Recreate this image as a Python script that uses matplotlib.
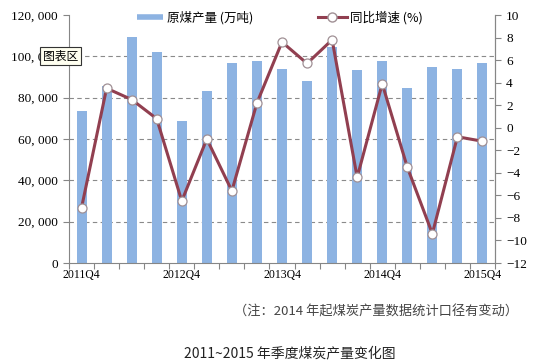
import matplotlib
matplotlib.use("Agg")
import matplotlib.pyplot as plt
from matplotlib.ticker import FuncFormatter, FixedLocator
from matplotlib.lines import Line2D

plt.rcParams['font.family'] = ['Noto Sans CJK SC', 'DejaVu Sans']

quarters = ["2011Q4", "2012Q1", "2012Q2", "2012Q3", "2012Q4", "2013Q1", "2013Q2", "2013Q3",
            "2013Q4", "2014Q1", "2014Q2", "2014Q3", "2014Q4", "2015Q1", "2015Q2", "2015Q3", "2015Q4"]
production = [73500, 85500, 109300, 102000, 68800, 83400, 97000, 97600,
              93700, 88300, 104400, 93200, 97600, 84900, 94600, 94100, 96600]
growth = [-7.1, 3.5, 2.5, 0.8, -6.5, -1.0, -5.6, 2.2,
          7.6, 5.7, 7.8, -4.4, 3.9, -3.5, -9.4, -0.8, -1.2]
label_every = 4
left_ticks = [0, 20000, 40000, 60000, 80000, 100000, 120000]
right_ticks = list(range(-12, 11, 2))

bar_color = "#8DB3E2"
line_color = "#913F50"
marker_edge = "#a09095"
axis_color = "#868686"
num_font = "Liberation Serif"

fig = plt.figure(figsize=(5.43, 3.62), dpi=100)
ax = fig.add_axes([69/543, 1 - 263/362, (495-69)/543, (263-15)/362])
x = list(range(len(quarters)))

ax.bar(x, production, width=0.4, color=bar_color, zorder=2)
ax.set_xlim(-0.5, len(quarters) - 0.5)
ax.set_ylim(0, 120000)
ax.yaxis.set_major_locator(FixedLocator(left_ticks))
ax.yaxis.set_major_formatter(FuncFormatter(lambda v, p: f"{int(v):,}".replace(",", ", ")))
for t in left_ticks[1:-1]:
    ax.axhline(t, color="#8a8a8a", lw=0.8, ls=(0, (4, 3)), zorder=1)

ax.set_xticks([i - 0.5 for i in range(len(quarters) + 1)])
ax.set_xticklabels([])
ax.set_xticks([i for i in x if i % label_every == 0], minor=True)
ax.set_xticklabels([quarters[i] for i in x if i % label_every == 0], minor=True,
                   fontsize=8.5, family=num_font)
ax.tick_params(axis='x', which='minor', length=0, pad=4)
ax.tick_params(axis='x', which='major', length=4, color=axis_color, direction='out')
ax.tick_params(axis='y', length=4, color=axis_color, labelsize=9.5, pad=4)
for lab in ax.get_yticklabels():
    lab.set_family(num_font)

ax.spines["top"].set_visible(False)
for s in ["left", "right", "bottom"]:
    ax.spines[s].set_color(axis_color)

ax2 = ax.twinx()
ax2.plot(x, growth, color=line_color, lw=2.2, marker='o', ms=6.5,
         mfc='white', mec=marker_edge, mew=0.9, zorder=3)
ax2.set_ylim(-12, 10)
ax2.set_yticks(right_ticks)
ax2.set_yticklabels([str(t).replace("-", "\u2212") for t in right_ticks], family=num_font)
ax2.tick_params(axis='y', length=4, color=axis_color, labelsize=9.5, pad=4)
for s in ["top", "left", "bottom"]:
    ax2.spines[s].set_visible(False)
ax2.spines["right"].set_color(axis_color)

h_bar = Line2D([], [], color=bar_color, lw=4, solid_capstyle='butt')
h_line = Line2D([], [], color=line_color, lw=2.2, marker='o', ms=6.5, mfc='white', mec=marker_edge)
fig.legend([h_bar], ["原煤产量 (万吨)"], loc='center left',
           bbox_to_anchor=(137/543, 1 - 18/362), frameon=False, fontsize=9,
           handlelength=2.1, handletextpad=0.3, borderpad=0, borderaxespad=0)
fig.legend([h_line], ["同比增速 (%)"], loc='center left',
           bbox_to_anchor=(318/543, 1 - 18/362), frameon=False, fontsize=9,
           handlelength=2.3, handletextpad=0.3, borderpad=0, borderaxespad=0)

fig.text(43/543, 1 - 56/362, "图表区", fontsize=8.5, ha='left', va='center',
         bbox=dict(boxstyle='square,pad=0.25', fc='#fffff0', ec='#333333', lw=0.8))

fig.text(518/543, 1 - 312/362, "（注：2014 年起煤炭产量数据统计口径有变动）",
         fontsize=9.5, ha='right', va='center', color="#444444")
fig.text(290/543, 1 - 353/362, "2011~2015 年季度煤炭产量变化图",
         fontsize=10, ha='center', va='center', color="#222222")

fig.savefig("out.png", dpi=100)
